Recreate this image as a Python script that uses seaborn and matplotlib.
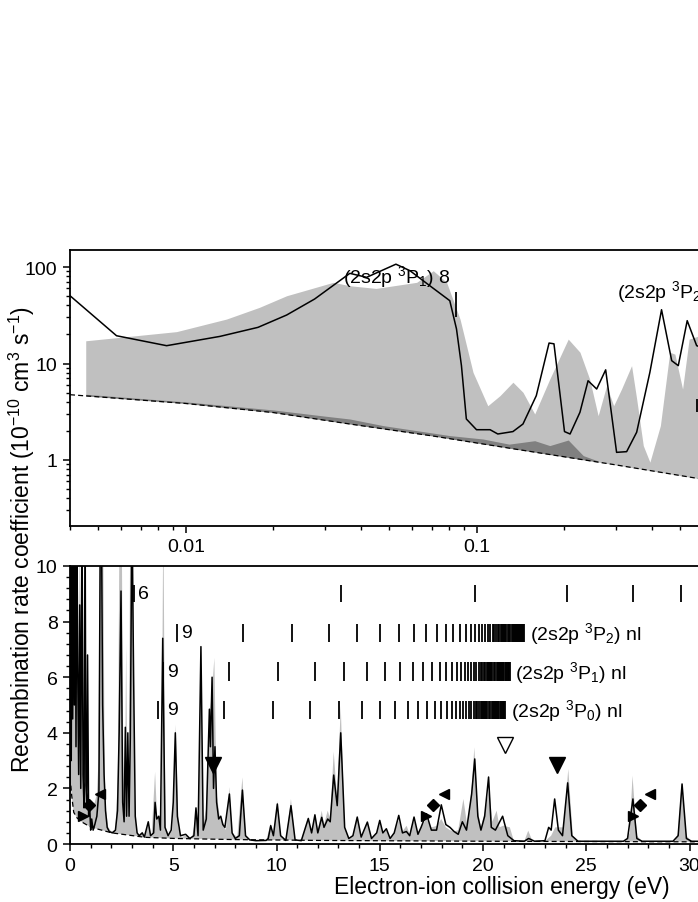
import numpy as np
import matplotlib
matplotlib.use("Agg")
import matplotlib.pyplot as plt
from matplotlib.ticker import MultipleLocator, LogLocator, NullFormatter
import seaborn as sns

# ---------------- top panel: low energies, log-log ----------------
top_exp_e = [0.004, 0.00578, 0.00859, 0.0131, 0.0177, 0.0222, 0.0277, 0.0366, 0.0418,
             0.0527, 0.0589, 0.0689, 0.0807, 0.0851, 0.0885, 0.092, 0.0997, 0.111, 0.118,
             0.133, 0.144, 0.160, 0.177, 0.184, 0.200, 0.209, 0.226, 0.241, 0.258, 0.277,
             0.302, 0.327, 0.354, 0.393, 0.431, 0.467, 0.492, 0.528, 0.569, 0.62]
top_exp_rate = [50.4, 19.4, 15.3, 19.1, 23.7, 31.8, 46.6, 86.0, 78.2,
                107.0, 91.6, 64.0, 44.8, 22.8, 9.5, 2.66, 2.06, 2.06, 1.86,
                1.97, 2.36, 4.64, 16.3, 16.0, 1.97, 1.86, 3.12, 6.63, 5.44, 8.6,
                1.2, 1.22, 1.94, 8.1, 36.1, 10.7, 9.5, 27.8, 15.3, 14.0]

top_theo_e = [0.00453, 0.00929, 0.0138, 0.0179, 0.0222, 0.0321, 0.0366, 0.045, 0.0621,
              0.0708, 0.0787, 0.0875, 0.097, 0.109, 0.120, 0.133, 0.144, 0.158, 0.178,
              0.206, 0.226, 0.244, 0.261, 0.279, 0.295, 0.314, 0.340, 0.354, 0.373,
              0.393, 0.427, 0.460, 0.479, 0.509, 0.536, 0.6, 0.7]
top_theo_rate = [17.2, 21.4, 28.9, 38.2, 50.4, 69.4, 64.0, 60.0, 69.4,
                 91.6, 69.4, 28.9, 8.1, 3.65, 4.64, 6.4, 5.03, 3.0, 6.9,
                 17.9, 13.1, 6.9, 2.88, 5.89, 3.65, 5.44, 9.5, 4.29, 1.41,
                 0.95, 2.27, 13.1, 12.5, 5.44, 17.9, 20.0, 15.0]

top_dark_e = [0.00453, 0.01, 0.02, 0.03, 0.0366, 0.0477, 0.0807, 0.105, 0.129, 0.158,
              0.178, 0.206, 0.232, 0.26]
top_dark_rate = [4.8, 4.0, 3.3, 2.85, 2.66, 2.27, 1.79, 1.65, 1.46, 1.585,
                 1.41, 1.61, 1.11, 0.98]

top_rr_e = [0.004, 0.01, 0.02, 0.0366, 0.07, 0.137, 0.3, 0.6, 0.75]
top_rr_rate = [4.75, 3.85, 3.1, 2.36, 1.78, 1.29, 0.89, 0.63, 0.57]

# ---------------- bottom panel: 0 - 30 eV, linear ----------------
exp_e = [0.0, 0.03, 0.06, 0.09, 0.13, 0.17, 0.21, 0.25, 0.29, 0.33, 0.37, 0.42, 0.47, 0.52,
         0.58, 0.63, 0.68, 0.73, 0.77, 0.81, 0.85, 0.90, 0.95, 1.00, 1.05, 1.12, 1.20, 1.30,
         1.40, 1.47, 1.52, 1.58, 1.65, 1.72, 1.80, 1.90, 2.05, 2.20, 2.30, 2.38, 2.47, 2.55,
         2.62, 2.68, 2.74, 2.80, 2.86, 2.92, 3.00, 3.08, 3.16, 3.25, 3.35, 3.5, 3.6, 3.79,
         3.9, 4.05, 4.12, 4.2, 4.3, 4.38, 4.49, 4.6, 4.75, 4.9, 5.0, 5.1, 5.2, 5.35, 5.6,
         5.8, 6.0, 6.1, 6.2, 6.34, 6.45, 6.6, 6.75, 6.8, 6.88, 6.95, 7.02, 7.1, 7.2, 7.3,
         7.4, 7.5, 7.72, 7.85, 8.0, 8.2, 8.35, 8.5, 8.7, 9.0, 9.5, 9.6, 9.72, 9.85, 10.04,
         10.2, 10.45, 10.7, 10.9, 11.2, 11.54, 11.7, 11.86, 12.0, 12.19, 12.3, 12.48, 12.6,
         12.77, 12.94, 13.11, 13.3, 13.5, 13.7, 13.91, 14.1, 14.4, 14.6, 14.85, 15.0, 15.15,
         15.32, 15.5, 15.7, 15.92, 16.1, 16.29, 16.45, 16.66, 16.85, 17.0, 17.26, 17.5,
         17.75, 17.98, 18.2, 18.4, 18.6, 18.8, 19.0, 19.2, 19.45, 19.6, 19.75, 19.9, 20.08,
         20.27, 20.4, 20.6, 20.95, 21.2, 21.5, 22.0, 22.21, 22.5, 23.0, 23.18, 23.3, 23.47,
         23.65, 23.85, 24.1, 24.3, 24.6, 25.5, 26.8, 27.0, 27.26, 27.45, 27.7, 29.2, 29.45,
         29.64, 29.85, 30.1, 32.0]
exp_rate = [1.9, 12, 3.0, 12, 4.5, 12, 5.0, 12, 3.5, 12, 6.5, 2.5, 8.6, 2.0,
            12, 2.5, 1.3, 12, 2.1, 1.5, 6.8, 1.0, 1.4, 0.5, 0.9, 0.5, 0.7, 1.0,
            1.9, 12, 12, 5.0, 2.5, 1.2, 0.6, 0.45, 0.4, 0.5, 1.2, 4.0, 9.1, 1.5,
            0.8, 4.2, 1.0, 4.0, 1.0, 3.8, 12, 6.0, 1.0, 0.4, 0.3, 0.4, 0.25, 0.8,
            0.3, 0.4, 1.5, 0.9, 1.0, 0.5, 7.4, 0.6, 0.3, 0.5, 1.5, 4.0, 1.0, 0.3, 0.35,
            0.2, 0.3, 1.3, 0.3, 7.1, 0.5, 0.9, 4.85, 3.5, 6.0, 2.0, 3.5, 1.5, 0.9, 1.0,
            0.7, 0.6, 1.8, 0.4, 0.2, 0.3, 1.94, 0.3, 0.15, 0.12, 0.13, 0.2, 0.66, 0.3, 1.44,
            0.3, 0.13, 1.38, 0.15, 0.12, 0.92, 0.4, 1.05, 0.4, 0.96, 0.6, 0.9, 0.8,
            2.48, 1.38, 4.0, 0.6, 0.2, 0.3, 0.97, 0.25, 0.79, 0.2, 0.4, 0.85, 0.4,
            0.55, 0.2, 0.4, 1.03, 0.4, 0.45, 0.3, 0.97, 0.35, 0.6, 1.09, 0.5,
            0.5, 1.41, 0.7, 0.6, 0.45, 0.35, 0.8, 0.5, 1.8, 3.06, 1.0, 0.5, 1.0,
            2.41, 0.6, 0.5, 1.0, 0.3, 0.12, 0.1, 0.2, 0.1, 0.12, 0.6, 0.5, 1.62,
            0.5, 0.3, 2.2, 0.3, 0.1, 0.1, 0.1, 0.2, 1.62, 0.2, 0.1, 0.1, 0.3,
            2.16, 0.2, 0.1, 0.09]

theo_e = [0.0, 0.02, 0.05, 0.08, 0.12, 0.16, 0.22, 0.26, 0.3, 0.36, 0.40, 0.45, 0.5, 0.55,
          0.6, 0.65, 0.7, 0.76, 0.82, 0.9, 1.0, 1.1, 1.2, 1.3, 1.38, 1.45, 1.6, 1.68, 1.75,
          1.85, 2.0, 2.2, 2.32, 2.4, 2.5, 2.58, 2.65, 2.72, 2.78, 2.85, 2.92, 3.05, 3.12,
          3.2, 3.3, 3.5, 3.6, 3.8, 3.95, 4.12, 4.22, 4.32, 4.42, 4.52, 4.62, 4.8, 4.95,
          5.12, 5.25, 5.4, 5.6, 5.9, 6.1, 6.2, 6.34, 6.45, 6.6, 6.75, 6.88, 6.99, 7.1,
          7.25, 7.4, 7.55, 7.72, 7.85, 8.1, 8.35, 8.5, 8.8, 9.5, 9.72, 9.85, 10.04, 10.2,
          10.45, 10.7, 10.9, 11.2, 11.54, 11.7, 11.86, 12.0, 12.19, 12.3, 12.48, 12.6,
          12.77, 12.94, 13.11, 13.3, 13.5, 13.7, 13.91, 14.1, 14.4, 14.6, 14.85, 15.0,
          15.15, 15.32, 15.5, 15.7, 15.92, 16.1, 16.3, 16.45, 16.66, 16.85, 17.0, 17.26,
          17.5, 17.75, 17.98, 18.2, 18.4, 18.6, 18.8, 19.05, 19.25, 19.45, 19.58, 19.75,
          19.9, 20.1, 20.3, 20.45, 20.66, 20.8, 20.98, 21.3, 21.5, 22.0, 22.19, 22.4, 23.0,
          23.3, 23.5, 23.7, 23.9, 24.13, 24.35, 24.6, 26.9, 27.1, 27.24, 27.45, 27.7, 29.3,
          29.45, 29.62, 29.85, 30.1, 42.0]
theo_rate = [1.9, 12, 6, 12, 9, 12, 12, 6, 12, 12, 4, 12, 5, 12,
             3.0, 2.0, 12, 2.5, 1.8, 1.3, 1.2, 1.4, 1.5, 1.8, 3.0, 12, 12, 2.5, 1.2,
             0.6, 0.45, 0.5, 2.5, 12, 12, 3.0, 1.2, 7.2, 1.5, 2.5, 12, 12, 2.0,
             0.6, 0.3, 0.45, 0.25, 0.7, 0.3, 2.6, 0.9, 1.0, 0.5, 12, 0.6, 0.3, 0.5,
             4.3, 0.6, 0.25, 0.3, 0.2, 1.0, 0.3, 6.8, 0.7, 1.3, 4.5, 5.5, 6.7, 1.8,
             1.0, 0.8, 0.5, 2.05, 0.4, 0.25, 2.4, 0.3, 0.12, 0.12, 0.75, 0.3, 1.55, 0.3,
             0.12, 1.62, 0.15, 0.12, 0.95, 0.4, 1.1, 0.5, 1.2, 0.7, 1.2, 0.9,
             3.32, 1.6, 4.97, 0.6, 0.2, 0.3, 1.0, 0.25, 0.8, 0.2, 0.4, 0.75,
             0.4, 0.5, 0.2, 0.4, 0.85, 0.45, 0.66, 0.35, 0.85, 0.4, 0.6, 0.9,
             0.6, 0.65, 0.9, 0.6, 0.5, 0.45, 0.5, 1.62, 0.6, 2.0, 3.48, 1.2,
             0.6, 1.2, 2.0, 0.8, 1.2, 0.6, 0.66, 0.6, 0.1, 0.1, 0.48, 0.1, 0.1,
             0.3, 0.6, 0.6, 0.6, 2.7, 0.3, 0.1, 0.1, 0.4, 2.46, 0.3, 0.1, 0.1,
             0.4, 2.2, 0.3, 0.1, 0.07]

rr_e = [0.04, 0.08, 0.18, 0.35, 0.58, 0.9, 1.23, 2.03, 3.65, 5.1, 8, 12, 20, 30, 42]
rr_rate = [2.1, 1.75, 1.14, 0.93, 0.79, 0.65, 0.56, 0.40, 0.24, 0.2, 0.16, 0.13, 0.1, 0.08, 0.07]

# Rydberg series markers (eV): binding offsets of n = 9, 10, ... below each series limit
rydberg_offsets = [16.80, 13.61, 11.24, 9.45, 8.05, 6.94, 6.05, 5.32, 4.71, 4.20, 3.77,
                   3.40, 3.09, 2.81, 2.57, 2.36, 2.18, 2.01, 1.87, 1.74, 1.62, 1.51, 1.42,
                   1.33, 1.25, 1.18, 1.11, 1.05, 0.99, 0.94, 0.90, 0.85, 0.77, 0.70, 0.64,
                   0.59, 0.54, 0.48, 0.43, 0.38, 0.32, 0.28, 0.21, 0.17, 0.11, 0.07, 0.03, 0.0]
limit_p2 = 21.97
limit_p1 = 21.30
limit_p0 = 21.06
series6_e = [3.1, 13.1, 19.6, 24.07, 27.26, 29.6, 31.4, 32.8]

marker_right_e = [0.65, 17.26, 27.26]
marker_diamond_e = [0.94, 17.58, 27.59]
marker_left_e = [1.45, 18.1, 28.1]
marker_down_e = [6.94, 23.6]
marker_open_e = [21.07]

# ---------------- style ----------------
sns.set_theme(style="ticks")
plt.rcParams["font.family"] = ["Liberation Sans", "DejaVu Sans"]
plt.rcParams["mathtext.fontset"] = "custom"
plt.rcParams["mathtext.rm"] = "Liberation Sans"
plt.rcParams["mathtext.it"] = "Liberation Sans:italic"
plt.rcParams["mathtext.default"] = "regular"
for key in ("text.color", "axes.labelcolor", "xtick.color", "ytick.color", "axes.edgecolor"):
    plt.rcParams[key] = "black"

light = "#c0c0c0"
dark = "#808080"
fs = 14

fig = plt.figure(figsize=(6.98, 9.03), dpi=100)
ax_top = fig.add_axes([0.1003, 0.4164, 1.2378, 0.3056])
ax_bot = fig.add_axes([0.1003, 0.0642, 1.2378, 0.3079])

# ---- top panel ----
ax_top.set_xscale("log")
ax_top.set_yscale("log")
ax_top.fill_between(top_theo_e, 0.01, top_theo_rate, color=light, lw=0, zorder=1)
ax_top.fill_between(top_dark_e, 0.01, top_dark_rate, color=dark, lw=0, zorder=1.2)
ax_top.fill_between(top_rr_e, 0.01, top_rr_rate, color="white", lw=0, zorder=1.5)
sns.lineplot(x=top_exp_e, y=top_exp_rate, ax=ax_top, color="black", lw=1.1,
             sort=False, estimator=None, zorder=3)
ax_top.plot(top_rr_e, top_rr_rate, color="black", lw=0.9, ls=(0, (4, 2.5)), zorder=4)

ax_top.text(0.0348, 80, "(2s2p $^3$P$_1$) 8", fontsize=fs, va="center", ha="left", zorder=5)
ax_top.vlines([0.0847], 30, 55, color="black", lw=1.3, zorder=5)
ax_top.text(0.303, 56, "(2s2p $^3$P$_2$) 8", fontsize=fs, va="center", ha="left", zorder=5)
ax_top.vlines([0.57], 3.14, 4.28, color="black", lw=1.3, zorder=5)

ax_top.set_xlim(0.004, 3.72)
ax_top.set_ylim(0.207, 150)
ax_top.set_xticks([0.01, 0.1, 1])
ax_top.set_xticklabels(["0.01", "0.1", "1"])
ax_top.set_yticks([1, 10, 100])
ax_top.set_yticklabels(["1", "10", "100"])
ax_top.xaxis.set_minor_locator(LogLocator(base=10, subs=np.arange(2, 10)))
ax_top.yaxis.set_minor_locator(LogLocator(base=10, subs=np.arange(2, 10)))
ax_top.xaxis.set_minor_formatter(NullFormatter())
ax_top.yaxis.set_minor_formatter(NullFormatter())
ax_top.set_xlabel("")
ax_top.set_ylabel("")

# ---- bottom panel ----
ax_bot.fill_between(theo_e, 0, theo_rate, color=light, lw=0, zorder=1)
ax_bot.fill_between(rr_e, 0, rr_rate, color="white", lw=0, zorder=1.5)
sns.lineplot(x=exp_e, y=exp_rate, ax=ax_bot, color="black", lw=1.1,
             sort=False, estimator=None, zorder=3)
ax_bot.plot(rr_e, rr_rate, color="black", lw=0.9, ls=(0, (4, 2.5)), zorder=4)

offs = np.array(rydberg_offsets)
ax_bot.vlines(series6_e, 8.7, 9.3, color="black", lw=1.3, zorder=5)
ax_bot.vlines(limit_p2 - offs, 7.27, 7.91, color="black", lw=1.3, zorder=5)
ax_bot.vlines(limit_p1 - offs, 5.86, 6.55, color="black", lw=1.3, zorder=5)
ax_bot.vlines(limit_p0 - offs, 4.5, 5.15, color="black", lw=1.3, zorder=5)
ax_bot.text(3.3, 9.0, "6", fontsize=fs, va="center", ha="left", zorder=5)
ax_bot.text(5.4, 7.6, "9", fontsize=fs, va="center", ha="left", zorder=5)
ax_bot.text(4.72, 6.2, "9", fontsize=fs, va="center", ha="left", zorder=5)
ax_bot.text(4.7, 4.83, "9", fontsize=fs, va="center", ha="left", zorder=5)
ax_bot.text(22.3, 7.6, "(2s2p $^3$P$_2$) nl", fontsize=fs, va="center", ha="left", zorder=5)
ax_bot.text(21.55, 6.2, "(2s2p $^3$P$_1$) nl", fontsize=fs, va="center", ha="left", zorder=5)
ax_bot.text(21.35, 4.83, "(2s2p $^3$P$_0$) nl", fontsize=fs, va="center", ha="left", zorder=5)

ax_bot.plot(marker_right_e, [1.0] * 3, ">", color="black", ms=7, ls="none", zorder=6)
ax_bot.plot(marker_diamond_e, [1.4] * 3, "D", color="black", ms=6, ls="none", zorder=6)
ax_bot.plot(marker_left_e, [1.8] * 3, "<", color="black", ms=7, ls="none", zorder=6)
ax_bot.plot(marker_down_e, [2.86] * 2, "v", color="black", ms=11, ls="none", zorder=6)
ax_bot.plot(marker_open_e, [3.56], "v", mfc="white", mec="black", mew=1.0, ms=11,
            ls="none", zorder=6)

ax_bot.set_xlim(0, 41.84)
ax_bot.set_ylim(0, 10)
ax_bot.xaxis.set_major_locator(MultipleLocator(5))
ax_bot.xaxis.set_minor_locator(MultipleLocator(1))
ax_bot.yaxis.set_major_locator(MultipleLocator(2))
ax_bot.yaxis.set_minor_locator(MultipleLocator(0.4))
ax_bot.set_ylabel("")
ax_bot.set_xlabel("Electron-ion collision energy (eV)", fontsize=16.5)
ax_bot.xaxis.set_label_coords(0.5, -0.112)

for ax in (ax_top, ax_bot):
    for sp in ax.spines.values():
        sp.set_linewidth(1.3)
        sp.set_color("black")
    ax.tick_params(which="major", direction="out", length=5, width=1.1, labelsize=fs,
                   color="black", labelcolor="black", pad=4)
    ax.tick_params(which="minor", direction="out", length=3, width=1.0, color="black")

fig.text(0.032, 0.402, "Recombination rate coefficient (10$^{-10}$ cm$^{3}$ s$^{-1}$)",
         rotation=90, ha="center", va="center", fontsize=16.5)

fig.savefig("out.png", dpi=100)
